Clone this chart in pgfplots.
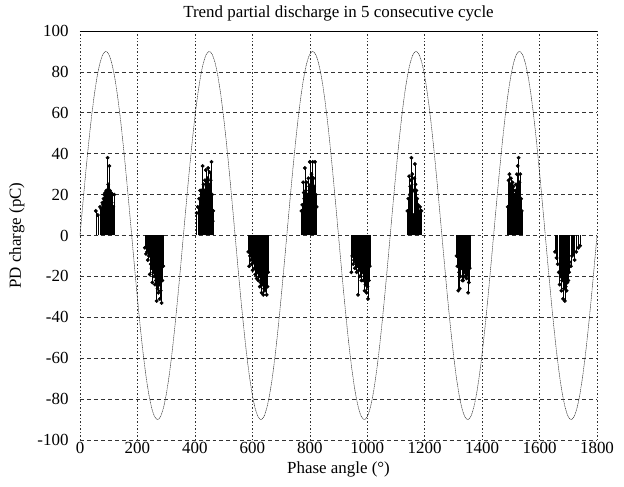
\documentclass[border=0pt]{standalone}
\usepackage{pgfplots}
\pgfplotsset{compat=1.18}
\usepackage{fontspec}
\setmainfont{Liberation Serif}

\begin{document}
\begin{tikzpicture}
\begin{axis}[
  width=517bp, height=409bp, scale only axis,
  xmin=0, xmax=1800, ymin=-100, ymax=100,
  xtick={0,200,...,1800}, ytick={-100,-80,...,100},
  major tick length=0pt,
  axis line style={draw=none},
  grid=major,
  x grid style={black!80, line width=0.5pt, dash pattern=on 1.5pt off 2pt},
  y grid style={black!80, line width=0.6pt, dash pattern=on 4pt off 3pt},
  extra y ticks={0}, extra y tick labels={},
  extra y tick style={grid=major, major grid style={black, solid, line width=0.8pt}},
  /pgf/number format/assume math mode=true,
  /pgf/number format/1000 sep={},
  tick label style={font=\fontsize{17}{19}\selectfont},
  label style={font=\fontsize{17}{19}\selectfont},
  title style={font=\fontsize{17}{19}\selectfont, yshift=0bp},
  yticklabel style={xshift=-8bp},
  xticklabel style={yshift=1bp},
  title={Trend partial discharge in 5 consecutive cycle},
  xlabel={Phase angle (°)},
  ylabel={PD charge (pC)},
  xlabel style={yshift=-1bp},
  ylabel style={yshift=6bp},
]
\coordinate (bl) at (rel axis cs:0,0);
\coordinate (tr) at (rel axis cs:1,1);
\draw[black, line width=0.9pt] (rel axis cs:0,0) -- (rel axis cs:1,0);
\draw[black, line width=0.9pt] (rel axis cs:0,1) -- (rel axis cs:1,1);

% sine reference (amplitude 90, period 360 deg)
\addplot[black!80, line width=0.5pt, dash pattern=on 1.2pt off 0.6pt, smooth] coordinates {
(0,0)(10,15.63)(20,30.78)(30,45)(40,57.85)(50,68.94)(60,77.94)(70,84.57)(80,88.63)(90,90)(100,88.63)(110,84.57)(120,77.94)(130,68.94)(140,57.85)(150,45)(160,30.78)(170,15.63)(180,0)(190,-15.63)(200,-30.78)(210,-45)(220,-57.85)(230,-68.94)(240,-77.94)(250,-84.57)(260,-88.63)(270,-90)(280,-88.63)(290,-84.57)(300,-77.94)(310,-68.94)(320,-57.85)(330,-45)(340,-30.78)(350,-15.63)
(360,0)(370,15.63)(380,30.78)(390,45)(400,57.85)(410,68.94)(420,77.94)(430,84.57)(440,88.63)(450,90)(460,88.63)(470,84.57)(480,77.94)(490,68.94)(500,57.85)(510,45)(520,30.78)(530,15.63)(540,0)(550,-15.63)(560,-30.78)(570,-45)(580,-57.85)(590,-68.94)(600,-77.94)(610,-84.57)(620,-88.63)(630,-90)(640,-88.63)(650,-84.57)(660,-77.94)(670,-68.94)(680,-57.85)(690,-45)(700,-30.78)(710,-15.63)
(720,0)(730,15.63)(740,30.78)(750,45)(760,57.85)(770,68.94)(780,77.94)(790,84.57)(800,88.63)(810,90)(820,88.63)(830,84.57)(840,77.94)(850,68.94)(860,57.85)(870,45)(880,30.78)(890,15.63)(900,0)(910,-15.63)(920,-30.78)(930,-45)(940,-57.85)(950,-68.94)(960,-77.94)(970,-84.57)(980,-88.63)(990,-90)(1000,-88.63)(1010,-84.57)(1020,-77.94)(1030,-68.94)(1040,-57.85)(1050,-45)(1060,-30.78)(1070,-15.63)
(1080,0)(1090,15.63)(1100,30.78)(1110,45)(1120,57.85)(1130,68.94)(1140,77.94)(1150,84.57)(1160,88.63)(1170,90)(1180,88.63)(1190,84.57)(1200,77.94)(1210,68.94)(1220,57.85)(1230,45)(1240,30.78)(1250,15.63)(1260,0)(1270,-15.63)(1280,-30.78)(1290,-45)(1300,-57.85)(1310,-68.94)(1320,-77.94)(1330,-84.57)(1340,-88.63)(1350,-90)(1360,-88.63)(1370,-84.57)(1380,-77.94)(1390,-68.94)(1400,-57.85)(1410,-45)(1420,-30.78)(1430,-15.63)
(1440,0)(1450,15.63)(1460,30.78)(1470,45)(1480,57.85)(1490,68.94)(1500,77.94)(1510,84.57)(1520,88.63)(1530,90)(1540,88.63)(1550,84.57)(1560,77.94)(1570,68.94)(1580,57.85)(1590,45)(1600,30.78)(1610,15.63)(1620,0)(1630,-15.63)(1640,-30.78)(1650,-45)(1660,-57.85)(1670,-68.94)(1680,-77.94)(1690,-84.57)(1700,-88.63)(1710,-90)(1720,-88.63)(1730,-84.57)(1740,-77.94)(1750,-68.94)(1760,-57.85)(1770,-45)(1780,-30.78)(1790,-15.63)(1800,0)
};

% PD pulses
\addplot[ycomb, black, line width=0.45pt, mark=*, mark size=1.7pt, mark options={solid, fill=black, draw=black}] coordinates {
(55,12)(62,10)(70,14)(74,13)(78,16)(80,15)(82,18)(84,20)(86,17)(88,21)(90,19)(92,22)(94,18)(96,38)(98,25)(100,20)(102,34)(104,22)(106,18)(108,21)(110,16)(113,20)(116,14)(119,20)
(226,-6)(230,-9)(233,-8)(236,-12)(240,-10)(243,-19)(246,-14)(249,-16)(252,-23)(255,-18)(258,-20)(261,-24)(264,-22)(267,-32)(270,-26)(273,-28)(276,-24)(278,-31)(281,-27)(284,-33)(287,-22)(290,-15)
(406,11)(410,14)(412,11)(415,18)(418,22)(421,16)(423,22)(425,20)(427,34)(430,25)(433,22)(435,27)(438,32)(441,24)(444,28)(446,33)(449,25)(452,31)(455,27)(458,36)(460,20)(462,7)(464,12)
(586,-8)(589,-15)(592,-10)(595,-12)(598,-14)(601,-17)(604,-13)(607,-16)(610,-19)(613,-15)(615,-21)(618,-18)(621,-22)(624,-20)(626,-25)(629,-23)(632,-28)(635,-24)(638,-29)(641,-26)(644,-27)(647,-22)(650,-29)(653,-25)(655,-18)
(771,12)(774,15)(777,26)(779,21)(781,18)(783,33)(786,22)(789,26)(792,20)(795,28)(798,24)(800,36)(803,25)(806,30)(808,22)(810,36)(813,28)(815,24)(818,36)(821,20)(824,14)
(945,-18)(948,-10)(951,-14)(954,-12)(957,-16)(960,-13)(963,-18)(966,-15)(968,-29)(971,-17)(974,-20)(977,-16)(980,-22)(983,-18)(986,-22)(989,-20)(991,-27)(994,-24)(998,-28)(1001,-25)(1003,-31)(1006,-22)(1009,-15)
(1140,12)(1143,18)(1146,29)(1148,20)(1150,24)(1152,27)(1154,38)(1157,30)(1160,10)(1162,22)(1164,28)(1166,35)(1168,25)(1171,22)(1174,18)(1177,15)(1180,12)(1184,14)(1189,12)
(1311,-10)(1314,-15)(1317,-27)(1320,-18)(1322,-26)(1325,-20)(1328,-16)(1331,-22)(1334,-22)(1337,-18)(1340,-20)(1343,-17)(1346,-21)(1349,-19)(1351,-28)(1354,-23)(1357,-16)
(1489,14)(1492,27)(1495,30)(1498,25)(1500,28)(1503,22)(1506,26)(1509,24)(1512,20)(1515,22)(1518,25)(1521,30)(1524,34)(1527,38)(1530,26)(1533,30)(1536,18)(1538,12)
(1654,-8)(1659,-11)(1663,-14)(1667,-18)(1670,-24)(1673,-20)(1676,-27)(1679,-22)(1682,-31)(1685,-26)(1688,-32)(1691,-25)(1694,-27)(1697,-23)(1700,-22)(1703,-18)(1705,-13)(1709,-15)(1713,-10)(1717,-9)(1722,-12)(1728,-8)(1735,-6)(1741,-5)
};
\end{axis}
\path ([shift={(-80bp,-47bp)}]bl) rectangle ([shift={(27bp,31bp)}]tr);
\end{tikzpicture}
\end{document}
